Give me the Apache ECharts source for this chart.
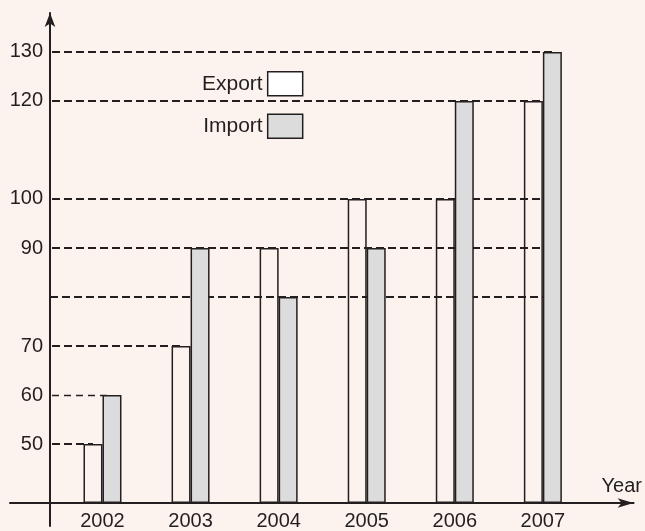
<!DOCTYPE html>
<html>
<head>
<meta charset="utf-8">
<script src="https://cdn.jsdelivr.net/npm/echarts@6/dist/echarts.min.js"></script>
<style>
html,body{margin:0;padding:0;background:#fcf3ee;}
#c{width:645px;height:531px;}
</style>
</head>
<body>
<div id="c"></div>
<script>
// ---- data ----
const years = [2002, 2003, 2004, 2005, 2006, 2007];
const exportValues = [50, 70, 90, 100, 100, 120];
const importValues = [60, 90, 80, 90, 120, 130];
const yTickLabels = [50, 60, 70, 90, 100, 120, 130];
// dashed guide lines: value and the year group where each line stops
const guideValues = [130, 120, 100, 90, 80, 70, 60, 50];
const guideEndYears = [2007, 2007, 2007, 2007, 2007, 2003, 2002, 2002];
// which bar series each guide line runs up to
const guideEndSeries = ['Import', 'Import', 'Import', 'Import', 'Import', 'Export', 'Import', 'Export'];

const INK = '#231f20';
const FONT = 'Liberation Sans, Arial, sans-serif';

function guidesFor(seriesName) {
  const out = [];
  guideValues.forEach((v, i) => {
    if (guideEndSeries[i] !== seriesName) return;
    out.push([
      { x: v === 80 ? 50 : 52, yAxis: v,
        lineStyle: v === 60 ? { width: 1.3, type: [7, 5] } : undefined },
      { xAxis: guideEndYears[i], yAxis: v }
    ]);
  });
  return out;
}

const markLineBase = {
  silent: true,
  z: 1,
  symbol: ['none', 'none'],
  label: { show: false },
  lineStyle: { color: INK, width: 2.2, type: [8, 4] },
  emphasis: { disabled: true }
};

const chart = echarts.init(document.getElementById('c'), null, { renderer: 'canvas' });
chart.setOption({
  animation: false,
  backgroundColor: '#fcf3ee',
  textStyle: { fontFamily: FONT, color: INK },
  grid: { left: 10, right: 8, top: 13, bottom: 5, containLabel: false },
  legend: {
    orient: 'vertical',
    left: 197,
    top: 66,
    align: 'right',
    icon: 'rect',
    itemWidth: 35,
    itemHeight: 24,
    itemGap: 17,
    selectedMode: false,
    textStyle: { fontSize: 21, color: INK, fontFamily: FONT },
    data: [
      { name: 'Export', itemStyle: { color: '#ffffff', borderColor: INK, borderWidth: 1.5 } },
      { name: 'Import', itemStyle: { color: '#dcdcdc', borderColor: INK, borderWidth: 1.5 } }
    ]
  },
  xAxis: {
    type: 'value',
    min: 2000.95,
    max: 2008.03,
    offset: -23,
    name: 'Year',
    nameLocation: 'end',
    nameGap: -32,
    nameTextStyle: { fontSize: 20, color: INK, fontFamily: FONT, verticalAlign: 'bottom', padding: [0, 0, 7, 0] },
    axisLine: { show: true, onZero: false, symbol: ['none', 'arrow'], symbolSize: [7, 16],
      lineStyle: { color: INK, width: 2 } },
    axisTick: { show: false },
    splitLine: { show: false },
    axisLabel: {
      customValues: years,
      formatter: v => String(v),
      fontSize: 20, color: INK, fontFamily: FONT, margin: 8
    }
  },
  yAxis: {
    type: 'value',
    min: 33.3,
    max: 137.93,
    startValue: 38,
    offset: -40,
    axisLine: { show: true, onZero: false, symbol: ['none', 'arrow'], symbolSize: [8, 14],
      lineStyle: { color: INK, width: 2 } },
    axisTick: { show: false },
    splitLine: { show: false },
    axisLabel: {
      customValues: yTickLabels,
      formatter: v => String(v),
      fontSize: 20, color: INK, fontFamily: FONT, margin: 7
    }
  },
  series: [
    {
      name: 'Export',
      type: 'bar',
      barWidth: 19,
      barGap: '0%',
      z: 2,
      itemStyle: { color: 'rgba(0,0,0,0)', borderColor: INK, borderWidth: 1.5 },
      data: years.map((y, i) => [y, exportValues[i]]),
      markLine: Object.assign({}, markLineBase, { data: guidesFor('Export') })
    },
    {
      name: 'Import',
      type: 'bar',
      barWidth: 19,
      barGap: '0%',
      z: 3,
      itemStyle: { color: '#dcdcdc', borderColor: INK, borderWidth: 1.5 },
      data: years.map((y, i) => [y, importValues[i]]),
      markLine: Object.assign({}, markLineBase, { data: guidesFor('Import') })
    }
  ]
});
</script>
</body>
</html>
